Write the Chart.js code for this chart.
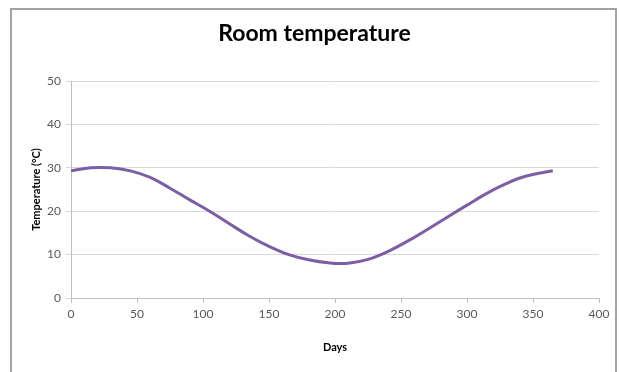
<!DOCTYPE html>
<html>
<head>
<meta charset="utf-8">
<title>Room temperature</title>
<script src="https://cdn.jsdelivr.net/npm/chart.js@4"></script>
<style>
  html, body { margin: 0; padding: 0; background: #ffffff; }
  #wrap { position: relative; width: 619px; height: 372px; overflow: hidden; }
  #frame {
    position: absolute; left: 10px; top: 8px; width: 603px; height: 420px;
    border: 2px solid #a3a3a3; border-bottom: none; pointer-events: none;
  }
  canvas { position: absolute; left: 0; top: 0; }
</style>
</head>
<body>
<div id="wrap">
  <canvas id="chart" width="619" height="372"></canvas>
  <div id="frame"></div>
</div>
<script>
// Day of the year and the room temperature measured on it (°C)
const days = [0, 15, 30, 45, 60, 75, 90, 105, 120, 135, 150, 165, 180, 195,
              210, 225, 240, 255, 270, 285, 300, 315, 330, 345, 365];
const temperatures = [29.3, 30.0, 30.0, 29.3, 27.8, 25.3, 22.6, 20.0, 17.1, 14.3,
                      11.9, 10.0, 8.8, 8.1, 8.0, 8.9, 10.7, 13.1, 15.8, 18.6,
                      21.4, 24.1, 26.4, 28.1, 29.3];

const xTicks = [0, 50, 100, 150, 200, 250, 300, 350, 400];
const yTicks = [0, 10, 20, 30, 40, 50];

const points = days.map((d, i) => ({ x: d, y: temperatures[i] }));

const FONT = "Lato, 'Liberation Sans', sans-serif";

new Chart(document.getElementById('chart'), {
  type: 'scatter',
  data: {
    datasets: [{
      label: 'Temperature',
      data: points,
      showLine: true,
      borderColor: '#7b5fa6',
      borderWidth: 3,
      pointRadius: 0,
      fill: false,
      tension: 0.4
    }]
  },
  options: {
    responsive: false,
    animation: false,
    layout: { padding: { left: 30, right: 20, top: 0, bottom: 0 } },
    plugins: {
      legend: { display: false },
      tooltip: { enabled: false },
      title: {
        display: true,
        text: 'Room temperature',
        color: '#000000',
        font: { family: FONT, size: 23, weight: 'bold', lineHeight: 1.2 },
        padding: { top: 20, bottom: 33.4 }
      }
    },
    scales: {
      x: {
        type: 'linear',
        min: xTicks[0],
        max: xTicks[xTicks.length - 1],
        afterBuildTicks: (scale) => { scale.ticks = xTicks.map(v => ({ value: v })); },
        afterFit: (scale) => { scale.height = 74; },
        grid: { drawOnChartArea: false, drawTicks: true, tickLength: 5, color: '#bfbfbf' },
        border: { display: true, color: '#bfbfbf', width: 1 },
        ticks: { color: '#595959', font: { family: FONT, size: 12 }, padding: 4, maxRotation: 0 },
        title: {
          display: true,
          text: 'Days',
          color: '#000000',
          font: { family: FONT, size: 11, weight: 'bold', lineHeight: 1.2 },
          padding: { top: 0, bottom: 18 }
        }
      },
      y: {
        type: 'linear',
        min: yTicks[0],
        max: yTicks[yTicks.length - 1],
        afterBuildTicks: (scale) => { scale.ticks = yTicks.map(v => ({ value: v })); },
        afterFit: (scale) => { scale.width = 41; },
        grid: { color: '#d9d9d9', tickLength: 5, drawTicks: true },
        border: { display: true, color: '#bfbfbf', width: 1 },
        ticks: { color: '#595959', font: { family: FONT, size: 12 }, padding: 5 },
        title: {
          display: true,
          text: 'Temperature (°C)',
          color: '#000000',
          font: { family: FONT, size: 11, weight: 'bold', lineHeight: 1.2 },
          padding: { top: 0, bottom: 0 }
        }
      }
    }
  }
});
</script>
</body>
</html>
